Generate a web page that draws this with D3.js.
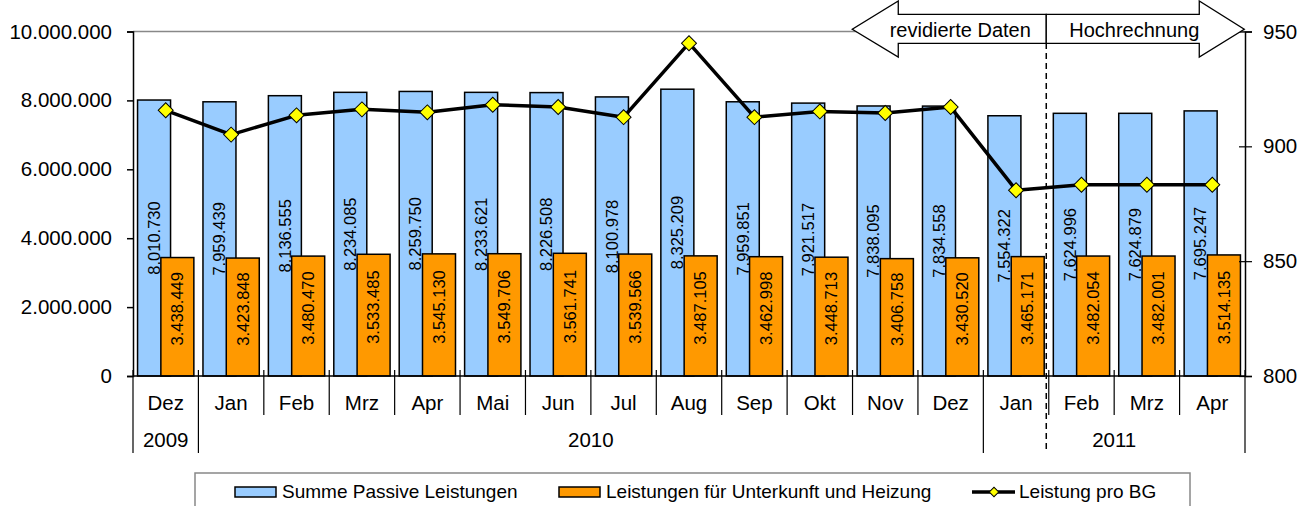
<!DOCTYPE html>
<html>
<head>
<meta charset="utf-8">
<script src="https://cdn.jsdelivr.net/npm/d3@7"></script>
<style>
  body { margin: 0; background: #fff; }
  svg { display: block; font-family: "Liberation Sans", Arial, sans-serif; }
</style>
</head>
<body>
<svg width="1303" height="506"></svg>
<script>
// data
var months = ["Dez","Jan","Feb","Mrz","Apr","Mai","Jun","Jul","Aug","Sep","Okt","Nov","Dez","Jan","Feb","Mrz","Apr"];
var yearLabels = ["2009","2010","2011"];
var yearSpans  = [1, 12, 4];
var passive = [8010730,7959439,8136555,8234085,8259750,8233621,8226508,8100978,8325209,
               7959851,7921517,7838095,7834558,7554322,7624996,7624879,7695247];
var unterkunft = [3438449,3423848,3480470,3533485,3545130,3549706,3561741,3539566,3487105,
                  3462998,3448713,3406758,3430520,3465171,3482054,3482001,3514135];
var proBG = [915.7,905.1,913.5,916.1,914.8,918.1,917.1,912.7,944.9,912.7,915.2,914.5,917.1,880.9,883.3,883.3,883.3];
var leftTicks  = [0,2000000,4000000,6000000,8000000,10000000];
var rightTicks = [800,850,900,950];
var seriesNames = ["Summe Passive Leistungen","Leistungen für Unterkunft und Heizung","Leistung pro BG"];
var splitAt = 14;   // first month of "Hochrechnung"

var svg = d3.select("svg");
var pLeft = 133, pRight = 1245, pTop = 31.5, pBottom = 376,
    blue = "#99CCFF", orange = "#FF9900", yellow = "#FFFF00",
    axisFont = "20.5px";

var de = d3.formatLocale({decimal: ",", thousands: ".", grouping: [3], currency: ["", ""]});
var fmt = de.format(",d");

var x = d3.scaleBand().domain(d3.range(months.length)).range([pLeft, pRight]).padding(0);
var yL = d3.scaleLinear().domain([0, 10000000]).range([pBottom, pTop]);
var yR = d3.scaleLinear().domain([800, 950]).range([pBottom, pTop]);

var bw = x.bandwidth(),
    barW = 33,
    shift = 23.3,
    side = (bw - (shift + barW)) / 2;

// plot area top border
svg.append("line")
  .attr("x1", pLeft).attr("x2", pRight).attr("y1", pTop).attr("y2", pTop)
  .attr("stroke", "#888").attr("stroke-width", 1.5);

// blue bars + labels (labels get partly hidden by the orange bars, like the original)
svg.append("g").selectAll("rect").data(passive).join("rect")
  .attr("x", (d, i) => x(i) + side)
  .attr("y", d => yL(d))
  .attr("width", barW)
  .attr("height", d => pBottom - yL(d))
  .attr("fill", blue).attr("stroke", "#000").attr("stroke-width", 1.5);

svg.append("g").selectAll("text").data(passive).join("text")
  .attr("transform", (d, i) => "translate(" + (x(i) + side + barW / 2) + "," + ((yL(d) + pBottom) / 2) + ") rotate(-90)")
  .attr("text-anchor", "middle").attr("dy", "0.35em")
  .attr("font-size", "16.5px")
  .text(d => fmt(d));

svg.append("g").selectAll("rect").data(unterkunft).join("rect")
  .attr("x", (d, i) => x(i) + side + shift)
  .attr("y", d => yL(d))
  .attr("width", barW)
  .attr("height", d => pBottom - yL(d))
  .attr("fill", orange).attr("stroke", "#000").attr("stroke-width", 1.5);

svg.append("g").selectAll("text").data(unterkunft).join("text")
  .attr("transform", (d, i) => "translate(" + (x(i) + side + shift + barW / 2) + "," + ((yL(d) + pBottom) / 2 - 8) + ") rotate(-90)")
  .attr("text-anchor", "middle").attr("dy", "0.35em")
  .attr("font-size", "16.5px")
  .text(d => fmt(d));

// left axis
var gL = svg.append("g")
  .attr("transform", "translate(" + pLeft + ",0)")
  .call(d3.axisLeft(yL).tickValues(leftTicks).tickSize(6).tickPadding(15).tickFormat(fmt));
gL.select(".domain").attr("stroke-width", 1.5);
gL.selectAll(".tick line").attr("stroke-width", 1.5);
gL.selectAll("text").attr("font-size", axisFont).attr("font-family", null).attr("fill", "#000");

// right axis, ticks cross the line
var gR = svg.append("g")
  .attr("transform", "translate(" + pRight + ",0)")
  .call(d3.axisRight(yR).tickValues(rightTicks).tickSize(7).tickPadding(11));
gR.select(".domain").attr("stroke-width", 1.5);
gR.selectAll(".tick line").attr("x1", -6).attr("stroke-width", 1.2);
gR.selectAll("text").attr("font-size", axisFont).attr("font-family", null).attr("fill", "#000");

// category axis
var gx = svg.append("g");
gx.append("line").attr("x1", pLeft).attr("x2", pRight).attr("y1", pBottom).attr("y2", pBottom)
  .attr("stroke", "#000").attr("stroke-width", 1.5);

var yearStarts = [0];
yearSpans.forEach((s, i) => yearStarts.push(yearStarts[i] + s));

d3.range(months.length + 1).forEach(function(i) {
  var bx = i < months.length ? x(i) : pRight;
  var isYear = yearStarts.indexOf(i) >= 0;
  gx.append("line")
    .attr("x1", bx).attr("x2", bx)
    .attr("y1", pBottom - 6).attr("y2", isYear ? 453 : 415)
    .attr("stroke", "#000").attr("stroke-width", 1.2);
});

gx.selectAll("text.month").data(months).join("text")
  .attr("class", "month")
  .attr("x", (d, i) => x(i) + bw / 2).attr("y", 403)
  .attr("dy", "0.35em").attr("text-anchor", "middle")
  .attr("font-size", axisFont)
  .text(d => d);

gx.selectAll("text.year").data(yearLabels).join("text")
  .attr("class", "year")
  .attr("x", (d, i) => {
    var a = x(yearStarts[i]), e = yearStarts[i + 1] < months.length ? x(yearStarts[i + 1]) : pRight;
    return (a + e) / 2;
  })
  .attr("y", 440).attr("dy", "0.35em").attr("text-anchor", "middle")
  .attr("font-size", axisFont)
  .text(d => d);

// line series
var line = d3.line().x((d, i) => x(i) + bw / 2).y(d => yR(d));
svg.append("path").datum(proBG)
  .attr("d", line).attr("fill", "none")
  .attr("stroke", "#000").attr("stroke-width", 3.5).attr("stroke-linejoin", "round");

var sq = d3.symbol().type(d3.symbolSquare).size(112);
svg.append("g").selectAll("path").data(proBG).join("path")
  .attr("d", sq)
  .attr("transform", (d, i) => "translate(" + (x(i) + bw / 2) + "," + yR(d) + ") rotate(45)")
  .attr("fill", yellow).attr("stroke", "#000").attr("stroke-width", 1);

// split: dashed line + arrows
var sx = x(splitAt) - 2.5;
svg.append("line")
  .attr("x1", sx).attr("x2", sx).attr("y1", 43).attr("y2", 453)
  .attr("stroke", "#000").attr("stroke-width", 1.5).attr("stroke-dasharray", "6,4");

var bTop = 14.3, bBot = 43.3, hTop = 1, hBot = 57, mid = 29.3;
var arrowL = [[sx, bTop], [sx - 148, bTop], [sx - 148, hTop], [sx - 194, mid], [sx - 148, hBot], [sx - 148, bBot], [sx, bBot]];
var arrowR = [[sx, bTop], [sx + 153, bTop], [sx + 153, hTop], [sx + 198, mid], [sx + 153, hBot], [sx + 153, bBot], [sx, bBot]];
[arrowL, arrowR].forEach(function(pts) {
  svg.append("path")
    .attr("d", d3.line()(pts) + "Z")
    .attr("fill", "#fff").attr("stroke", "#000").attr("stroke-width", 1.3);
});
svg.append("text").attr("x", sx - 86).attr("y", 37).attr("text-anchor", "middle")
  .attr("font-size", "20px").text("revidierte Daten");
svg.append("text").attr("x", sx + 88).attr("y", 37).attr("text-anchor", "middle")
  .attr("font-size", "20px").text("Hochrechnung");

// legend
var lg = svg.append("g");
lg.append("rect").attr("x", 195).attr("y", 473).attr("width", 995).attr("height", 50)
  .attr("fill", "#fff").attr("stroke", "#888").attr("stroke-width", 1.5);

var legendX = [235, 559, 972];
lg.append("rect").attr("x", legendX[0]).attr("y", 487).attr("width", 41).attr("height", 10)
  .attr("fill", blue).attr("stroke", "#000").attr("stroke-width", 1.5);
lg.append("rect").attr("x", legendX[1]).attr("y", 487).attr("width", 41).attr("height", 10)
  .attr("fill", orange).attr("stroke", "#000").attr("stroke-width", 1.5);
lg.append("line").attr("x1", legendX[2]).attr("x2", legendX[2] + 43).attr("y1", 492).attr("y2", 492)
  .attr("stroke", "#000").attr("stroke-width", 3.5);
lg.append("path").attr("d", d3.symbol().type(d3.symbolSquare).size(45))
  .attr("transform", "translate(" + (legendX[2] + 22) + ",492) rotate(45)")
  .attr("fill", yellow).attr("stroke", "#000").attr("stroke-width", 1);

lg.selectAll("text").data(seriesNames).join("text")
  .attr("x", (d, i) => legendX[i] + 47)
  .attr("y", 498)
  .attr("font-size", "19px")
  .text(d => d);
</script>
</body>
</html>
